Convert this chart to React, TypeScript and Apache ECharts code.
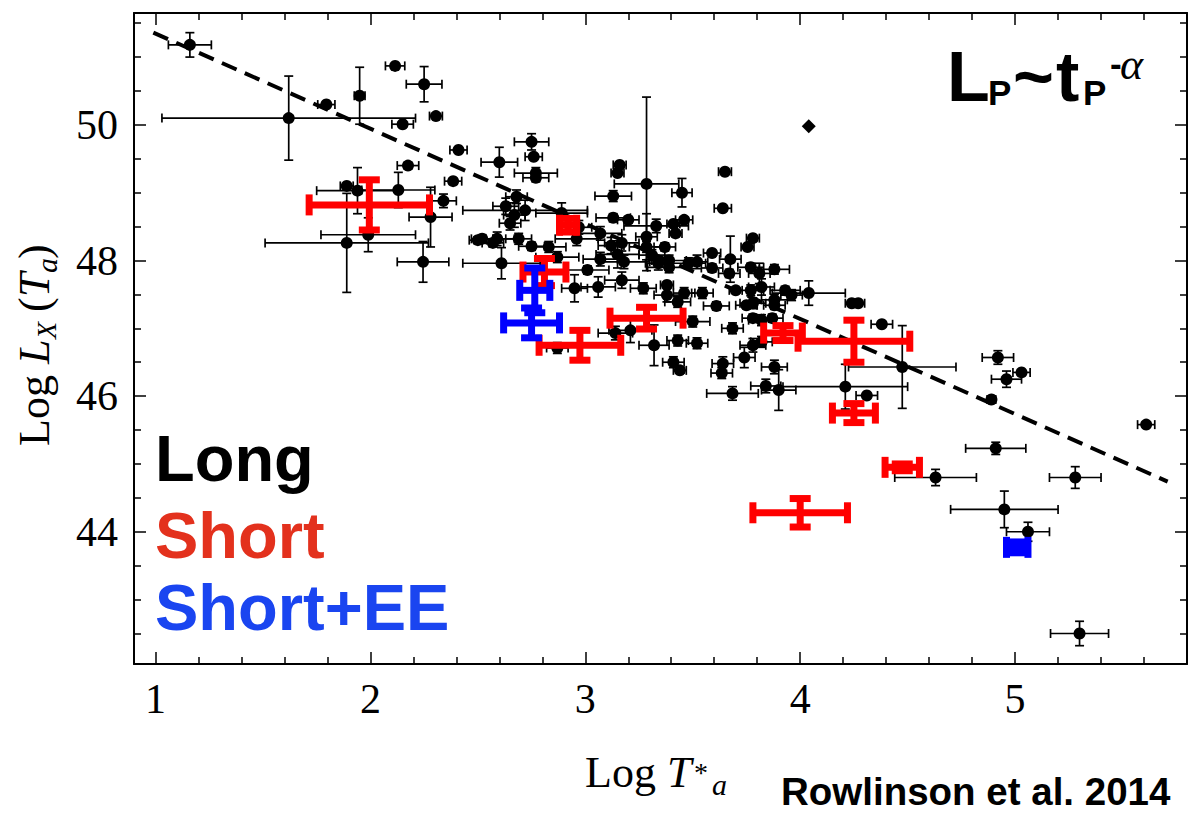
import React, { useEffect, useRef } from "react";
import * as echarts from "echarts";

// [log T*a, log Lx, xErr, yErr]
const longPoints: number[][] = [
  [1.16, 51.18, 0.10, 0.18], [1.62, 50.10, 0.59, 0.62], [2.115, 50.87, 0.045, 0.03],
  [2.25, 50.60, 0.083, 0.26], [1.95, 50.43, 0.025, 0.42], [1.795, 50.30, 0.04, 0.03],
  [2.305, 50.13, 0.03, 0.03], [2.15, 50.01, 0.05, 0.03], [2.41, 49.63, 0.04, 0.03],
  [2.175, 49.40, 0.05, 0.05], [2.385, 49.17, 0.04, 0.04], [2.34, 48.88, 0.06, 0.10],
  [1.89, 49.10, 0.03, 0.03], [1.94, 49.03, 0.19, 0.34], [2.13, 49.04, 0.17, 0.26],
  [2.28, 48.64, 0.10, 0.44], [1.99, 48.38, 0.22, 0.25], [1.89, 48.26, 0.38, 0.73],
  [2.245, 47.98, 0.12, 0.30], [2.50, 48.30, 0.04, 0.05], [2.75, 49.75, 0.08, 0.12],
  [2.76, 49.53, 0.04, 0.04], [2.60, 49.45, 0.085, 0.22], [2.77, 49.29, 0.10, 0.08],
  [2.77, 49.22, 0.06, 0.06], [3.16, 49.41, 0.03, 0.04], [3.15, 49.29, 0.03, 0.04],
  [3.285, 49.13, 0.15, 1.28], [3.45, 49.00, 0.047, 0.21], [3.65, 49.31, 0.03, 0.03],
  [3.64, 48.77, 0.04, 0.04], [3.13, 48.95, 0.085, 0.08], [2.68, 48.94, 0.05, 0.10],
  [2.63, 48.80, 0.06, 0.12], [2.72, 48.74, 0.29, 0.15], [2.67, 48.67, 0.05, 0.18],
  [2.89, 48.70, 0.12, 0.15], [2.65, 48.55, 0.05, 0.10], [2.97, 48.49, 0.06, 0.10],
  [3.07, 48.40, 0.10, 0.10], [3.13, 48.63, 0.08, 0.06], [3.20, 48.60, 0.05, 0.05],
  [3.33, 48.51, 0.15, 0.10], [3.285, 48.35, 0.05, 0.34], [3.41, 48.54, 0.03, 0.04],
  [3.42, 48.40, 0.03, 0.04], [3.46, 48.60, 0.04, 0.04], [2.52, 48.32, 0.05, 0.06],
  [2.57, 48.26, 0.05, 0.06], [2.59, 48.32, 0.08, 0.10], [2.69, 48.32, 0.06, 0.08],
  [2.75, 48.21, 0.06, 0.06], [2.83, 48.20, 0.08, 0.08], [2.96, 48.32, 0.10, 0.10],
  [3.12, 48.22, 0.06, 0.12], [3.17, 48.26, 0.08, 0.12], [3.15, 48.09, 0.10, 0.20],
  [3.285, 48.20, 0.08, 0.08], [3.31, 48.08, 0.06, 0.08], [2.61, 47.96, 0.18, 0.23],
  [2.87, 48.05, 0.10, 0.08], [3.01, 47.86, 0.10, 0.06], [3.07, 48.02, 0.08, 0.10],
  [3.18, 47.98, 0.12, 0.10], [3.17, 47.71, 0.08, 0.12], [3.27, 47.59, 0.06, 0.08],
  [2.95, 47.59, 0.06, 0.20], [3.06, 47.61, 0.08, 0.15], [3.34, 47.96, 0.06, 0.10],
  [3.39, 48.00, 0.08, 0.08], [3.39, 47.90, 0.10, 0.08], [3.48, 47.96, 0.08, 0.08],
  [3.52, 47.98, 0.05, 0.10], [3.59, 48.11, 0.04, 0.04], [3.675, 48.02, 0.05, 0.34],
  [3.67, 47.81, 0.05, 0.06], [3.77, 47.90, 0.06, 0.06], [3.81, 47.81, 0.05, 0.15],
  [3.88, 47.87, 0.07, 0.07], [3.78, 48.33, 0.03, 0.04], [3.755, 48.20, 0.03, 0.04],
  [3.38, 47.64, 0.03, 0.04], [3.38, 47.49, 0.06, 0.10], [3.46, 47.52, 0.05, 0.08],
  [3.545, 47.52, 0.05, 0.08], [3.43, 47.39, 0.06, 0.08], [3.61, 47.33, 0.06, 0.06],
  [3.77, 47.56, 0.06, 0.08], [3.82, 47.61, 0.06, 0.12], [3.78, 47.37, 0.06, 0.08],
  [3.88, 47.42, 0.06, 0.08], [3.78, 47.15, 0.05, 0.06], [3.82, 47.12, 0.06, 0.08],
  [3.87, 47.15, 0.05, 0.06], [3.685, 47.00, 0.05, 0.08], [3.50, 47.10, 0.08, 0.08],
  [3.21, 46.97, 0.10, 0.18], [3.14, 46.93, 0.08, 0.10], [3.32, 46.75, 0.07, 0.30],
  [3.43, 46.82, 0.05, 0.08], [3.52, 46.78, 0.05, 0.08], [3.41, 46.50, 0.05, 0.08],
  [3.44, 46.38, 0.03, 0.04], [3.64, 46.48, 0.05, 0.10], [3.635, 46.34, 0.05, 0.08],
  [3.74, 46.57, 0.05, 0.15], [3.88, 46.43, 0.06, 0.10], [3.84, 46.15, 0.07, 0.10],
  [3.685, 46.04, 0.12, 0.10], [3.90, 46.09, 0.08, 0.30], [3.78, 46.75, 0.06, 0.10],
  [3.82, 46.80, 0.05, 0.08], [2.87, 46.71, 0.05, 0.08], [4.475, 46.43, 0.25, 0.61],
  [4.21, 46.14, 0.29, 0.33], [4.31, 46.01, 0.05, 0.03], [4.38, 47.06, 0.05, 0.04],
  [4.27, 47.37, 0.03, 0.03], [4.24, 47.37, 0.03, 0.03], [4.04, 47.52, 0.17, 0.18],
  [3.96, 47.49, 0.05, 0.08], [3.93, 47.56, 0.07, 0.06], [3.88, 47.34, 0.05, 0.06],
  [3.37, 48.20, 0.05, 0.06], [3.59, 47.89, 0.05, 0.06], [3.70, 47.56, 0.03, 0.04],
  [3.75, 47.34, 0.05, 0.05], [4.92, 46.57, 0.073, 0.10], [5.03, 46.35, 0.04, 0.03],
  [4.96, 46.25, 0.07, 0.12], [4.89, 45.95, 0.02, 0.03], [5.61, 45.58, 0.04, 0.03],
  [4.91, 45.23, 0.14, 0.09], [4.63, 44.80, 0.19, 0.12], [5.28, 44.80, 0.12, 0.16],
  [4.95, 44.33, 0.25, 0.27], [5.06, 44.00, 0.10, 0.14], [5.30, 42.50, 0.135, 0.18],
];

// isolated point drawn as a diamond without error bars
const diamondPoints: number[][] = [[4.04, 49.98]];

const shortPoints: number[][] = [
  [1.995, 48.82, 0.28, 0.37], [2.92, 48.52, 0.04, 0.10], [2.81, 47.83, 0.10, 0.20],
  [2.975, 46.75, 0.19, 0.22], [3.285, 47.15, 0.17, 0.16], [3.92, 46.93, 0.09, 0.11],
  [4.25, 46.81, 0.26, 0.31], [4.25, 45.75, 0.10, 0.14], [4.475, 44.95, 0.08, 0.05],
  [4.00, 44.28, 0.22, 0.21],
];

const shortEEPoints: number[][] = [
  [2.765, 47.56, 0.07, 0.33], [2.75, 47.08, 0.13, 0.22], [5.01, 43.77, 0.05, 0.08],
];

const fitLine: number[][] = [[0.99, 51.36], [5.71, 44.74]];

const xMajorTicks = [1, 2, 3, 4, 5];
const xMinorTicks = [1.2, 1.4, 1.6, 1.8, 2.2, 2.4, 2.6, 2.8, 3.2, 3.4, 3.6, 3.8, 4.2, 4.4, 4.6, 4.8, 5.2, 5.4, 5.6];
const yMajorTicks = [44, 46, 48, 50];
const yMinorTicks = [42.5, 43, 43.5, 44.5, 45, 45.5, 46.5, 47, 47.5, 48.5, 49, 49.5, 50.5, 51, 51.5];

const X_MIN = 0.9, X_MAX = 5.8, Y_MIN = 42.05, Y_MAX = 51.65;
const SERIF = "'Liberation Serif', 'Times New Roman', serif";
const SANS = "'Liberation Sans', Arial, Helvetica, sans-serif";

const errorBars = (color: string, lw: number, cap: number) => (_p: any, api: any) => {
  const x = api.value(0), y = api.value(1), xe = api.value(2), ye = api.value(3);
  const c = api.coord([x, y]);
  const l = api.coord([x - xe, y])[0];
  const r = api.coord([x + xe, y])[0];
  const t = api.coord([x, y + ye])[1];
  const b = api.coord([x, y - ye])[1];
  const h = cap / 2;
  const style = { stroke: color, lineWidth: lw, fill: null };
  const children: any[] = [];
  const seg = (x1: number, y1: number, x2: number, y2: number) =>
    children.push({ type: "line", shape: { x1, y1, x2, y2 }, style });
  if (xe > 0) {
    seg(l, c[1], r, c[1]);
    seg(l, c[1] - h, l, c[1] + h);
    seg(r, c[1] - h, r, c[1] + h);
  }
  if (ye > 0) {
    seg(c[0], t, c[0], b);
    seg(c[0] - h, t, c[0] + h, t);
    seg(c[0] - h, b, c[0] + h, b);
  }
  return { type: "group", children };
};

const tickAxisX = (position: string, major: boolean, labels: boolean) => ({
  type: "value",
  position,
  min: X_MIN,
  max: X_MAX,
  axisLine: { show: major, onZero: false, lineStyle: { color: "#000", width: 2 } },
  axisTick: {
    show: true, inside: true, length: major ? 12 : 7,
    customValues: major ? xMajorTicks : xMinorTicks,
    lineStyle: { color: "#000", width: 1.5 },
  },
  axisLabel: labels
    ? { show: true, customValues: xMajorTicks, fontSize: 42, fontFamily: SERIF, color: "#000", margin: 14 }
    : { show: false },
  splitLine: { show: false },
});

const tickAxisY = (position: string, major: boolean, labels: boolean) => ({
  type: "value",
  position,
  min: Y_MIN,
  max: Y_MAX,
  axisLine: { show: major, onZero: false, lineStyle: { color: "#000", width: 2 } },
  axisTick: {
    show: true, inside: true, length: major ? 12 : 7,
    customValues: major ? yMajorTicks : yMinorTicks,
    lineStyle: { color: "#000", width: 1.5 },
  },
  axisLabel: labels
    ? { show: true, customValues: yMajorTicks, fontSize: 42, fontFamily: SERIF, color: "#000", margin: 16 }
    : { show: false },
  splitLine: { show: false },
});

const txt = (text: string, x: number, y: number, font: any, extra: any = {}) => ({
  type: "text",
  x,
  y,
  ...extra,
  style: {
    text,
    x: 0,
    y: 0,
    fill: font.fill || "#000",
    fontSize: font.size,
    fontFamily: font.family,
    fontWeight: font.weight || "normal",
    fontStyle: font.style || "normal",
    align: "left",
    verticalAlign: "middle",
    textAlign: "left",
    textVerticalAlign: "middle",
  },
});

const rot = { rotation: Math.PI / 2 };

export default function App() {
  const ref = useRef<HTMLDivElement>(null);
  useEffect(() => {
    const chart = echarts.init(ref.current!, null, { renderer: "svg" });
    const option: any = {
      animation: false,
      backgroundColor: "#fff",
      grid: { left: 134, top: 13, right: 5, bottom: 149, containLabel: false },
      xAxis: [
        tickAxisX("bottom", true, true),
        tickAxisX("bottom", false, false),
        tickAxisX("top", true, false),
        tickAxisX("top", false, false),
      ],
      yAxis: [
        tickAxisY("left", true, true),
        tickAxisY("left", false, false),
        tickAxisY("right", true, false),
        tickAxisY("right", false, false),
      ],
      series: [
        {
          type: "custom", name: "Long err", renderItem: errorBars("#000", 1.7, 9),
          data: longPoints, encode: { x: 0, y: 1 }, xAxisIndex: 0, yAxisIndex: 0, z: 2, silent: true,
        },
        {
          type: "scatter", name: "Long", data: longPoints.map((p) => [p[0], p[1]]),
          symbol: "circle", symbolSize: 12, itemStyle: { color: "#000", opacity: 1 },
          xAxisIndex: 0, yAxisIndex: 0, z: 3, silent: true,
        },
        {
          type: "scatter", name: "Long (diamond)", data: diamondPoints,
          symbol: "diamond", symbolSize: [14, 14], itemStyle: { color: "#000", opacity: 1 },
          xAxisIndex: 0, yAxisIndex: 0, z: 3, silent: true,
        },
        {
          type: "line", name: "fit", data: fitLine, symbol: "none", xAxisIndex: 0, yAxisIndex: 0,
          lineStyle: { color: "#000", width: 4, type: [16, 9] }, z: 4, silent: true,
        },
        {
          type: "custom", name: "Short", renderItem: errorBars("#ff0000", 7, 21),
          data: shortPoints, encode: { x: 0, y: 1 }, xAxisIndex: 0, yAxisIndex: 0, z: 5, silent: true,
        },
        {
          type: "custom", name: "Short+EE", renderItem: errorBars("#0000ff", 7, 21),
          data: shortEEPoints, encode: { x: 0, y: 1 }, xAxisIndex: 0, yAxisIndex: 0, z: 6, silent: true,
        },
      ],
      graphic: [
        // y-axis title (rotated)
        txt("Log", 34, 446, { size: 44, family: SERIF }, rot),
        txt("L", 34, 364, { size: 44, family: SERIF, style: "italic" }, rot),
        txt("X", 46, 339, { size: 28, family: SERIF, style: "italic" }, rot),
        txt("(", 34, 312, { size: 44, family: SERIF }, rot),
        txt("T", 34, 297, { size: 44, family: SERIF, style: "italic" }, rot),
        txt("a", 46, 273, { size: 30, family: SERIF, style: "italic" }, rot),
        txt(")", 34, 259, { size: 44, family: SERIF }, rot),
        // x-axis title
        txt("Log", 585, 772, { size: 44, family: SERIF }),
        txt("T", 667, 772, { size: 44, family: SERIF, style: "italic" }),
        txt("*", 694, 772, { size: 28, family: SERIF }),
        txt("a", 712, 784, { size: 30, family: SERIF, style: "italic" }),
        // credit
        txt("Rowlinson et al. 2014", 781, 791, { size: 38.5, family: SANS, weight: "bold" }),
        // legend
        txt("Long", 155, 458, { size: 65, family: SANS, weight: "bold" }),
        txt("Short", 155, 535, { size: 65, family: SANS, weight: "bold", fill: "#e3311d" }),
        txt("Short+EE", 155, 607, { size: 65, family: SANS, weight: "bold", fill: "#1a45f0" }),
        // relation label
        txt("L", 947, 77, { size: 70, family: SANS, weight: "bold" }),
        txt("P", 988, 92, { size: 35, family: SANS, weight: "bold" }),
        txt("~", 1013, 77, { size: 70, family: SANS, weight: "bold" }),
        txt("t", 1056, 77, { size: 70, family: SANS, weight: "bold" }),
        txt("P", 1083, 92, { size: 35, family: SANS, weight: "bold" }),
        txt("-", 1110, 63, { size: 35, family: SANS, weight: "bold" }),
        txt("α", 1120, 64, { size: 44, family: SERIF, style: "italic" }),
      ],
    };
    chart.setOption(option);
    return () => chart.dispose();
  }, []);
  return (
    <div
      ref={ref}
      style={{ position: "fixed", left: 0, top: 0, width: 1192, height: 813, background: "#fff" }}
    />
  );
}
